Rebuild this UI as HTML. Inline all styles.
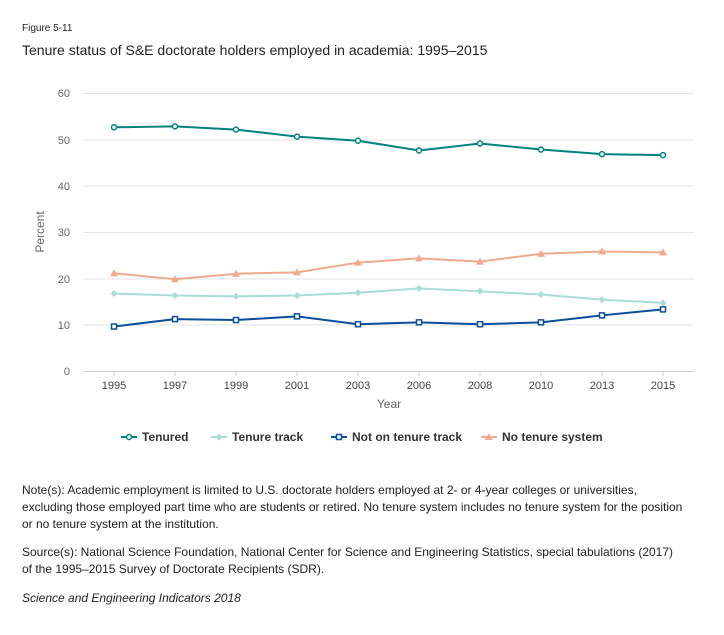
<!DOCTYPE html><html><head><meta charset="utf-8"><style>
body{margin:0;background:#fff;font-family:"Liberation Sans",sans-serif;}
svg text{font-family:"Liberation Sans",sans-serif;}
</style></head><body>
<svg id="s" width="724" height="630" viewBox="0 0 724 630" xmlns="http://www.w3.org/2000/svg">
<text x="22" y="31" font-size="10" fill="#222">Figure 5-11</text>
<text x="22" y="55" font-size="14" fill="#222">Tenure status of S&amp;E doctorate holders employed in academia: 1995–2015</text>
<g stroke="#e3e3e3" stroke-width="1">
<line x1="84" x2="694" y1="93.5" y2="93.5"/><line x1="84" x2="694" y1="140" y2="140"/>
<line x1="84" x2="694" y1="186" y2="186"/><line x1="84" x2="694" y1="232.5" y2="232.5"/>
<line x1="84" x2="694" y1="279" y2="279"/><line x1="84" x2="694" y1="325" y2="325"/>
</g>
<line x1="84" x2="694" y1="371.5" y2="371.5" stroke="#c9cfd6"/>
<g font-size="11" fill="#666" text-anchor="end">
<text x="70" y="97">60</text><text x="70" y="144">50</text><text x="70" y="190">40</text>
<text x="70" y="236">30</text><text x="70" y="283">20</text><text x="70" y="329">10</text><text x="70" y="375">0</text>
</g>
<text transform="translate(44,232) rotate(-90)" font-size="12" fill="#666" text-anchor="middle">Percent</text>
<g id="xl" font-size="11" fill="#444" text-anchor="middle"></g>
<text x="389" y="408" font-size="12" fill="#666" text-anchor="middle">Year</text>
<g id="series"></g>
<g font-size="12" font-weight="bold" fill="#333">
<line x1="121" x2="137" y1="437" y2="437" stroke="#00827f" stroke-width="2"/><circle cx="129" cy="437" r="2.5" fill="#fff" stroke="#00827f" stroke-width="1.5"/><text x="142" y="441">Tenured</text>
<line x1="211" x2="227" y1="437" y2="437" stroke="#a9ddd6" stroke-width="2"/><path d="M219 433.5 L222.5 437 L219 440.5 L215.5 437Z" fill="#a9ddd6"/><text x="232" y="441">Tenure track</text>
<line x1="331" x2="347" y1="437" y2="437" stroke="#0a4f9c" stroke-width="2"/><rect x="336.5" y="434.5" width="5" height="5" fill="#fff" stroke="#0a4f9c" stroke-width="1.5"/><text x="352" y="441">Not on tenure track</text>
<line x1="481" x2="497" y1="437" y2="437" stroke="#f0aa8e" stroke-width="2"/><path d="M489 433 L493 440 L485 440Z" fill="#f0aa8e"/><text x="502" y="441">No tenure system</text>
</g>
<g font-size="12" fill="#222">
<text x="22" y="494">Note(s): Academic employment is limited to U.S. doctorate holders employed at 2- or 4-year colleges or universities,</text>
<text x="22" y="511">excluding those employed part time who are students or retired. No tenure system includes no tenure system for the position</text>
<text x="22" y="528">or no tenure system at the institution.</text>
<text x="22" y="556">Source(s): National Science Foundation, National Center for Science and Engineering Statistics, special tabulations (2017)</text>
<text x="22" y="573">of the 1995–2015 Survey of Doctorate Recipients (SDR).</text>
<text x="22" y="602" font-style="italic">Science and Engineering Indicators 2018</text>
</g>
</svg>
<script>
var NS="http://www.w3.org/2000/svg";
var yrs=[1995,1997,1999,2001,2003,2006,2008,2010,2013,2015];
var xl=document.getElementById("xl"),g=document.getElementById("series");
function el(n,a,p){var e=document.createElementNS(NS,n);for(var k in a)e.setAttribute(k,a[k]);(p||g).appendChild(e);return e;}
yrs.forEach(function(y,i){var x=114+61*i;el("text",{x:x,y:389},xl).textContent=y;el("line",{x1:x,x2:x,y1:371,y2:376,stroke:"#c9cfd6"},xl);});
var S=[
["#f0aa8e","t",[21.1,19.8,21.0,21.3,23.4,24.3,23.6,25.3,25.8,25.6]],
["#a9ddd6","d",[16.7,16.3,16.1,16.3,16.9,17.8,17.2,16.5,15.4,14.7]],
["#0a4f9c","s",[9.6,11.2,11.0,11.8,10.1,10.5,10.1,10.5,12.0,13.3]],
["#00827f","c",[52.6,52.8,52.1,50.6,49.7,47.6,49.1,47.8,46.8,46.6]]];
S.forEach(function(s){var c=s[0],pts=s[2].map(function(v,i){return [114+61*i,371-v*4.633];});
el("polyline",{points:pts.map(function(p){return p.join(",")}).join(" "),fill:"none",stroke:c,"stroke-width":2});
pts.forEach(function(p){var x=p[0],y=p[1];
if(s[1]=="c")el("circle",{cx:x,cy:y,r:2.5,fill:"#fff",stroke:c,"stroke-width":1.5});
if(s[1]=="s")el("rect",{x:x-2.5,y:y-2.5,width:5,height:5,fill:"#fff",stroke:c,"stroke-width":1.5});
if(s[1]=="d")el("path",{d:"M"+x+" "+(y-3.5)+" L"+(x+3.5)+" "+y+" L"+x+" "+(y+3.5)+" L"+(x-3.5)+" "+y+"Z",fill:c});
if(s[1]=="t")el("path",{d:"M"+x+" "+(y-4)+" L"+(x+4)+" "+(y+3)+" L"+(x-4)+" "+(y+3)+"Z",fill:c});
});});
</script>
</body></html>
